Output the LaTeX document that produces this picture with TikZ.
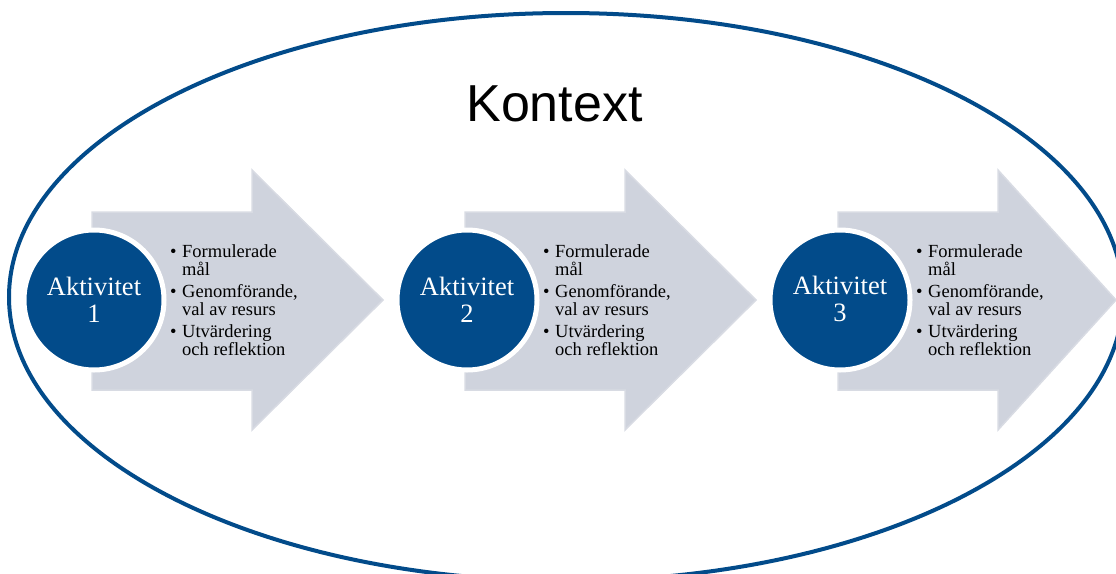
\documentclass[tikz,border=0pt]{standalone}
\usepackage{fontspec}
\setmainfont{Liberation Serif}
\newfontfamily\kontextfont{Liberation Sans}
\definecolor{ctxblue}{HTML}{024B8A}
\definecolor{arrowgrey}{HTML}{CFD3DD}
\definecolor{arrowedge}{HTML}{D8DBE3}
% bullet and hanging indent for the step lists
\newcommand\bitem{\makebox[12pt][l]{\textbullet}}
\newcommand\bcont{\makebox[12pt]{}}

\begin{document}
\begin{tikzpicture}[x=1pt,y=-1pt,
  steparrow/.style={fill=arrowgrey, draw=arrowedge, line width=1.5pt, line join=miter},
  actcircle/.style={circle, fill=ctxblue, draw=white, line width=5pt,
                    minimum size=140pt, inner sep=0pt},
  acttext/.style={text=white, font=\fontsize{26.5}{27}\selectfont,
                  align=center, inner sep=0pt},
  bullets/.style={anchor=north west, align=left, inner sep=0pt,
                  font=\fontsize{18.5}{18}\selectfont},
  ctxline/.style={draw=ctxblue, line width=4pt},
  ctxtitle/.style={anchor=base, inner sep=0pt, font=\kontextfont\fontsize{52}{52}\selectfont}]

  \useasboundingbox (0,0) rectangle (1116,573);
  \clip (0,0) rectangle (1116,573);

  % the three activity steps: arrow, circle, label and bullet list
  \foreach \n/\x/\tip in {1/92/383, 2/465/756, 3/838/1116}{
    \draw[steparrow] (\x,212) -- (\x+160,212) -- (\x+160,170) -- (\tip,300)
      -- (\x+160,430) -- (\x+160,390) -- (\x,390) -- cycle;
    \node[actcircle] (act\n) at (\x+2,300) {};
    \node[acttext] (act\n label) at ([yshift=0.6pt]act\n.center) {Aktivitet\\\n};
    \node[bullets] (act\n list) at (\x+78,244.4)
      {\bitem Formulerade\\ \bcont mål\\[4pt]
       \bitem Genomförande,\\ \bcont val av resurs\\[4pt]
       \bitem Utvärdering\\ \bcont och reflektion};
  }

  % surrounding context
  \node[ctxtitle] (kontext) at (554.5,121) {Kontext};
  \draw[ctxline] (566,297) ellipse [x radius=557pt, y radius=284pt];
\end{tikzpicture}
\end{document}
